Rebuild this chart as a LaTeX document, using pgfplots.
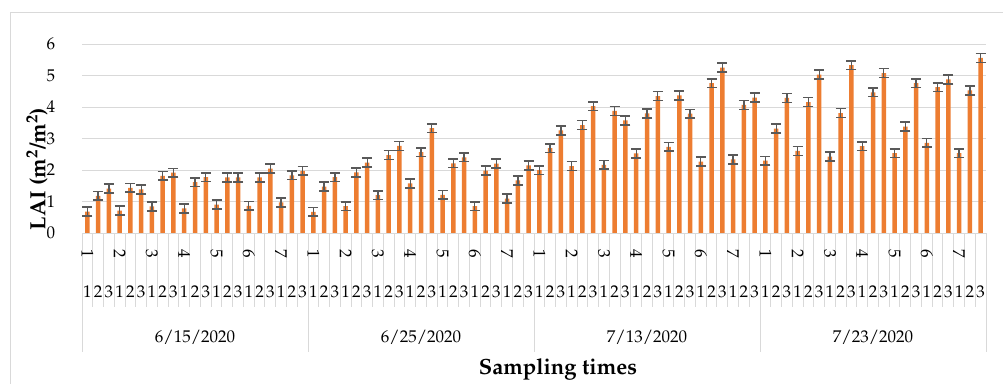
\documentclass[border=0pt]{standalone}
\usepackage[T1]{fontenc}
\usepackage{mathpazo}
\usepackage{pgfplots}
\usepackage{pgfplotstable}
\pgfplotsset{compat=1.18}
\definecolor{barorange}{HTML}{ED7D31}
\definecolor{errgray}{HTML}{595959}
\definecolor{gridgray}{HTML}{D9D9D9}
\newcommand\tickfont{\fontsize{17}{20}\selectfont}
\newcommand\titlefont{\fontsize{22}{25}\selectfont\bfseries}

\pgfplotstableread{
x y e
0 0.69 0.14
1 1.19 0.14
2 1.42 0.14
3 0.72 0.14
4 1.44 0.14
5 1.39 0.14
6 0.85 0.14
7 1.82 0.14
8 1.92 0.14
9 0.79 0.14
10 1.62 0.14
11 1.78 0.14
12 0.91 0.14
13 1.77 0.14
14 1.77 0.14
15 0.87 0.14
16 1.77 0.14
17 2.05 0.14
18 0.98 0.14
19 1.84 0.14
20 1.98 0.14
21 0.68 0.14
22 1.48 0.14
23 1.78 0.14
24 0.86 0.14
25 1.93 0.14
26 2.24 0.14
27 1.21 0.14
28 2.48 0.14
29 2.77 0.14
30 1.58 0.14
31 2.57 0.14
32 3.33 0.14
33 1.22 0.14
34 2.22 0.14
35 2.41 0.14
36 0.86 0.14
37 1.99 0.14
38 2.21 0.14
39 1.10 0.14
40 1.68 0.14
41 2.15 0.14
42 2.00 0.14
43 2.70 0.14
44 3.26 0.14
45 2.13 0.14
46 3.43 0.14
47 4.03 0.14
48 2.17 0.14
49 3.88 0.14
50 3.58 0.14
51 2.53 0.14
52 3.80 0.14
53 4.35 0.14
54 2.74 0.14
55 4.37 0.14
56 3.79 0.14
57 2.27 0.14
58 4.76 0.14
59 5.25 0.14
60 2.34 0.14
61 4.07 0.14
62 4.30 0.14
63 2.30 0.14
64 3.32 0.14
65 4.29 0.14
66 2.61 0.14
67 4.16 0.14
68 5.03 0.14
69 2.43 0.14
70 3.81 0.14
71 5.33 0.14
72 2.76 0.14
73 4.47 0.14
74 5.08 0.14
75 2.54 0.14
76 3.38 0.14
77 4.76 0.14
78 2.87 0.14
79 4.63 0.14
80 4.88 0.14
81 2.54 0.14
82 4.53 0.14
83 5.56 0.14
}\laidata

\newcommand\pn[2]{\node[rotate=-90, font=\tickfont, inner sep=0pt] at ([yshift=-20.7pt]axis cs:#1,0) {#2};}

\begin{document}
\begin{tikzpicture}[x=1pt,y=1pt]
\useasboundingbox (0,0) rectangle (1003,383);
\draw[gridgray, line width=1pt] (10,-5) -- (10,370) -- (1010,370);
\begin{axis}[
  at={(82pt,149.7pt)}, anchor=south west,
  scale only axis, width=904pt, height=189.3pt,
  xmin=-0.5, xmax=83.5, ymin=0, ymax=6,
  ytick={0,1,2,3,4,5,6},
  xtick={0,...,83},
  xticklabels={1,2,3,1,2,3,1,2,3,1,2,3,1,2,3,1,2,3,1,2,3,
               1,2,3,1,2,3,1,2,3,1,2,3,1,2,3,1,2,3,1,2,3,
               1,2,3,1,2,3,1,2,3,1,2,3,1,2,3,1,2,3,1,2,3,
               1,2,3,1,2,3,1,2,3,1,2,3,1,2,3,1,2,3,1,2,3},
  xticklabel style={font=\tickfont, anchor=center, yshift=-58.7pt, inner sep=0pt},
  yticklabel style={font=\tickfont, anchor=center, xshift=-31pt, inner sep=0pt},
  major tick length=0pt,
  axis line style={draw=none},
  ymajorgrids, grid style={gridgray, line width=1pt},
  clip=false,
]
\addplot[ybar, bar width=4.5pt, fill=barorange, draw=none,
  error bars/.cd, y dir=both, y explicit,
  error bar style={errgray, line width=1.3pt},
  error mark options={errgray, rotate=90, mark size=5pt, line width=1.6pt}]
  table[x=x, y=y, y error=e]{\laidata};

\draw[gridgray, line width=1pt] (axis cs:-0.5,0) -- (axis cs:83.5,0);
\pgfplotsinvokeforeach{-0.5,0.5,...,83.5}{
  \draw[gridgray, line width=1pt] (axis cs:#1,0) -- ([yshift=-74pt]axis cs:#1,0);
}
\pgfplotsinvokeforeach{-0.5,20.5,41.5,62.5,83.5}{
  \draw[gridgray, line width=1pt] (axis cs:#1,0) -- ([yshift=-118.7pt]axis cs:#1,0);
}
\pn{0}{1}\pn{3}{2}\pn{6}{3}\pn{9}{4}\pn{12}{5}\pn{15}{6}\pn{18}{7}
\pn{21}{1}\pn{24}{2}\pn{27}{3}\pn{30}{4}\pn{33}{5}\pn{36}{6}\pn{39}{7}
\pn{42}{1}\pn{45}{2}\pn{48}{3}\pn{51}{4}\pn{54}{5}\pn{57}{6}\pn{60}{7}
\pn{63}{1}\pn{66}{2}\pn{69}{3}\pn{72}{4}\pn{75}{5}\pn{78}{6}\pn{81}{7}
\node[font=\tickfont] at ([yshift=-103.7pt]axis cs:10,0) {6/15/2020};
\node[font=\tickfont] at ([yshift=-103.7pt]axis cs:31,0) {6/25/2020};
\node[font=\tickfont] at ([yshift=-103.7pt]axis cs:52,0) {7/13/2020};
\node[font=\tickfont] at ([yshift=-103.7pt]axis cs:73,0) {7/23/2020};
\end{axis}
\node[rotate=90, font=\titlefont] at (37,214) {LAI (m\textsuperscript{2}/m\textsuperscript{2})};
\node[font=\titlefont] at (558,14) {Sampling times};
\end{tikzpicture}
\end{document}
